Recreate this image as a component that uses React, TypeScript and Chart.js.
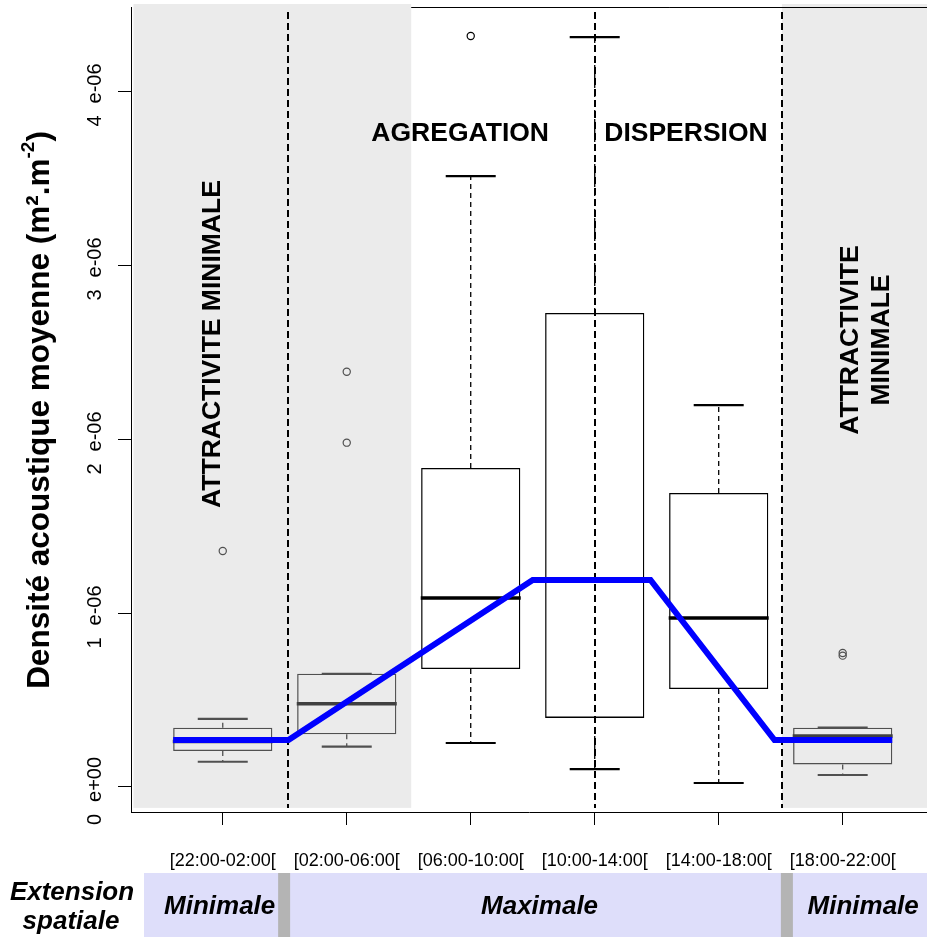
import React, { useEffect, useRef } from 'react';
import { Chart, registerables } from 'chart.js';

Chart.register(...registerables);

const FONT = '"Liberation Sans", Arial, Helvetica, sans-serif';

// ---- data ----
const CATEGORIES = ['[22:00-02:00[', '[02:00-06:00[', '[06:00-10:00[', '[10:00-14:00[', '[14:00-18:00[', '[18:00-22:00['];
const POSITIONS = [1, 2, 3, 4, 5, 6];
const WHISKER_LOW = [0.145e-6, 0.232e-6, 0.253e-6, 0.103e-6, 0.023e-6, 0.069e-6];
const Q1 = [0.207e-6, 0.303e-6, 0.678e-6, 0.397e-6, 0.563e-6, 0.130e-6];
const MEDIAN = [0.262e-6, 0.479e-6, 1.086e-6, 1.19e-6, 0.971e-6, 0.293e-6];
const Q3 = [0.341e-6, 0.651e-6, 1.833e-6, 2.724e-6, 1.690e-6, 0.341e-6];
const WHISKER_HIGH = [0.391e-6, 0.651e-6, 3.511e-6, 4.310e-6, 2.195e-6, 0.341e-6];
const OUTLIER_X = [1, 2, 2, 3, 6, 6];
const OUTLIER_Y = [1.356e-6, 2.387e-6, 1.979e-6, 4.316e-6, 0.770e-6, 0.755e-6];
const TREND_X = [0.6, 1.53, 3.5, 4.45, 5.45, 6.4];
const TREND_Y = [0.27e-6, 0.27e-6, 1.19e-6, 1.19e-6, 0.27e-6, 0.27e-6];
const Y_TICKS = [0, 1e-6, 2e-6, 3e-6, 4e-6];
const Y_TICK_DIGITS = ['0', '1', '2', '3', '4'];
const Y_TICK_EXPONENTS = ['e+00', 'e-06', 'e-06', 'e-06', 'e-06'];
const Y_TITLE = 'Densité acoustique moyenne (m².m';
const Y_TITLE_SUP = '-2';
const Y_TITLE_END = ')';
const ZONE_LABELS = ['Minimale', 'Maximale', 'Minimale'];
const ZONE_ROW_TITLE = ['Extension', 'spatiale'];

// axis ranges / layout helpers (not data)
const X_MIN = 0.26;
const X_MAX = 6.68;
const Y_MIN = -0.1437e-6;
const Y_MAX = 4.483e-6;
const GREY_ZONES = [[0.28, 2.52], [5.51, 6.7]];
const ZONE_TOP = 4.5e-6;
const ZONE_BOTTOM = -0.12e-6;
const SEPARATORS = [1.53, 4.0, 5.51];
const BOX_COLORS = ['#505050', '#505050', '#000000', '#000000', '#000000', '#505050'];

function colorFor(x: number) {
  return BOX_COLORS[Math.round(x) - 1] || '#000';
}

function rotText(ctx: CanvasRenderingContext2D, text: string, x: number, y: number, font: string) {
  ctx.save();
  ctx.translate(x, y);
  ctx.rotate(-Math.PI / 2);
  ctx.font = font;
  ctx.textAlign = 'center';
  ctx.textBaseline = 'middle';
  ctx.fillText(text, 0, 0);
  ctx.restore();
}

function zeroPad(s: any) {
  s.paddingLeft = 0;
  s.paddingRight = 0;
  s.paddingTop = 0;
  s.paddingBottom = 0;
}

const decorPlugin = {
  id: 'decor',
  beforeDatasetsDraw(chart: any) {
    const { ctx, chartArea, scales } = chart;
    const xs = scales.x, ys = scales.y;
    ctx.save();
    ctx.fillStyle = '#ebebeb';
    const yt = ys.getPixelForValue(ZONE_TOP);
    const yb = ys.getPixelForValue(ZONE_BOTTOM);
    for (const [a, b] of GREY_ZONES) {
      const x0 = xs.getPixelForValue(a);
      const x1 = xs.getPixelForValue(b);
      ctx.fillRect(x0, yt, x1 - x0, yb - yt);
    }
    // top frame line
    ctx.strokeStyle = '#000';
    ctx.lineWidth = 1;
    ctx.beginPath();
    ctx.moveTo(xs.getPixelForValue(GREY_ZONES[0][1]), chartArea.top + 0.5);
    ctx.lineTo(chartArea.right, chartArea.top + 0.5);
    ctx.stroke();
    // dashed separators
    ctx.setLineDash([7, 4]);
    ctx.lineWidth = 2;
    for (const v of SEPARATORS) {
      const px = Math.round(xs.getPixelForValue(v));
      ctx.beginPath();
      ctx.moveTo(px, chartArea.top + 5);
      ctx.lineTo(px, yb);
      ctx.stroke();
    }
    ctx.restore();
  },
  afterDraw(chart: any) {
    const { ctx, scales } = chart;
    const xs = scales.x, ys = scales.y;
    ctx.save();
    ctx.fillStyle = '#000';
    // y tick labels (rotated, digit + exponent)
    ys.ticks.forEach((t: any, i: number) => {
      const py = ys.getPixelForValue(t.value);
      ctx.save();
      ctx.translate(95, py + 4);
      ctx.rotate(-Math.PI / 2);
      ctx.font = `20px ${FONT}`;
      ctx.textBaseline = 'middle';
      const d = Y_TICK_DIGITS[i], e = Y_TICK_EXPONENTS[i];
      const gap = 12;
      const wd = ctx.measureText(d).width, we = ctx.measureText(e).width;
      const start = -(wd + gap + we) / 2;
      ctx.textAlign = 'left';
      ctx.fillText(d, start, 0);
      ctx.fillText(e, start + wd + gap, 0);
      ctx.restore();
    });
    // y title with superscript
    {
      ctx.save();
      ctx.translate(40, 410);
      ctx.rotate(-Math.PI / 2);
      const fMain = `bold 31.5px ${FONT}`;
      const fSup = `bold 19px ${FONT}`;
      ctx.font = fMain;
      const w1 = ctx.measureText(Y_TITLE).width;
      const w3 = ctx.measureText(Y_TITLE_END).width;
      ctx.font = fSup;
      const w2 = ctx.measureText(Y_TITLE_SUP).width;
      const total = w1 + w2 + w3;
      let cx = -total / 2;
      ctx.textAlign = 'left';
      ctx.textBaseline = 'middle';
      ctx.font = fMain;
      ctx.fillText(Y_TITLE, cx, 0);
      cx += w1;
      ctx.font = fSup;
      ctx.fillText(Y_TITLE_SUP, cx, -11);
      cx += w2;
      ctx.font = fMain;
      ctx.fillText(Y_TITLE_END, cx, 0);
      ctx.restore();
    }
    // annotations
    const fAnn = `bold 26.5px ${FONT}`;
    rotText(ctx, 'ATTRACTIVITE MINIMALE', xs.getPixelForValue(0.92), ys.getPixelForValue(2.546e-6), fAnn);
    rotText(ctx, 'ATTRACTIVITE', xs.getPixelForValue(6.065), ys.getPixelForValue(2.569e-6), fAnn);
    rotText(ctx, 'MINIMALE', xs.getPixelForValue(6.315), ys.getPixelForValue(2.569e-6), fAnn);
    ctx.font = fAnn;
    ctx.textAlign = 'center';
    ctx.textBaseline = 'middle';
    ctx.fillText('AGREGATION', xs.getPixelForValue(2.915), ys.getPixelForValue(3.753e-6));
    ctx.fillText('DISPERSION', xs.getPixelForValue(4.736), ys.getPixelForValue(3.753e-6));

    // bottom band: spatial extension
    const bandTop = 873, bandBottom = 937;
    const bandLeft = xs.getPixelForValue(0.365);
    ctx.fillStyle = '#dedefa';
    ctx.fillRect(bandLeft, bandTop, chart.width - bandLeft, bandBottom - bandTop);
    ctx.fillStyle = '#b4b4b4';
    for (const v of [1.495, 5.55]) {
      const px = xs.getPixelForValue(v);
      ctx.fillRect(px - 6, bandTop, 12, bandBottom - bandTop);
    }
    ctx.fillStyle = '#000';
    ctx.font = `italic bold 26px ${FONT}`;
    ctx.textAlign = 'center';
    ctx.textBaseline = 'middle';
    const zoneCenters = [0.975, 3.555, 6.165];
    ZONE_LABELS.forEach((t, i) => ctx.fillText(t, xs.getPixelForValue(zoneCenters[i]), 907));
    ctx.fillText(ZONE_ROW_TITLE[0], 72, 893);
    ctx.fillText(ZONE_ROW_TITLE[1], 71, 922);
    ctx.restore();
  },
};

export default function App() {
  const ref = useRef<HTMLCanvasElement>(null);
  useEffect(() => {
    const canvas = ref.current!;
    const whiskerData: any[] = [];
    POSITIONS.forEach((p, i) => {
      whiskerData.push({ x: p, y: Q3[i] }, { x: p, y: WHISKER_HIGH[i] }, { x: p, y: null });
      whiskerData.push({ x: p, y: Q1[i] }, { x: p, y: WHISKER_LOW[i] }, { x: p, y: null });
    });
    const caps: any[] = [];
    POSITIONS.forEach((p, i) => {
      caps.push({ x: p, y: WHISKER_HIGH[i] }, { x: p, y: WHISKER_LOW[i] });
    });
    const chart = new Chart(canvas, {
      type: 'bar',
      data: {
        datasets: [
          {
            type: 'bar',
            label: 'boxes',
            data: POSITIONS.map((p, i) => ({ x: p, y: [Q1[i], Q3[i]] })) as any,
            backgroundColor: 'rgba(0,0,0,0)',
            borderColor: BOX_COLORS,
            borderWidth: 1.3,
            borderSkipped: false,
            barPercentage: 1,
            categoryPercentage: 0.8,
            order: 5,
          } as any,
          {
            type: 'line',
            label: 'whiskers',
            data: whiskerData,
            borderColor: '#000',
            segment: { borderColor: (c: any) => colorFor(c.p0.parsed.x) },
            borderWidth: 1.3,
            borderDash: [5, 4],
            pointRadius: 0,
            spanGaps: false,
            order: 4,
          } as any,
          {
            type: 'scatter',
            label: 'caps',
            data: caps,
            pointStyle: 'line',
            pointRadius: 25,
            borderColor: caps.map((c) => colorFor(c.x)),
            borderWidth: 2.2,
            order: 3,
          } as any,
          {
            type: 'scatter',
            label: 'medians',
            data: POSITIONS.map((p, i) => ({ x: p, y: MEDIAN[i] })),
            pointStyle: 'line',
            pointRadius: 50,
            borderColor: POSITIONS.map((p) => (colorFor(p) === '#000000' ? '#000' : '#404040')),
            borderWidth: 3.5,
            order: 2,
          } as any,
          {
            type: 'scatter',
            label: 'outliers',
            data: OUTLIER_X.map((x, i) => ({ x, y: OUTLIER_Y[i] })),
            pointStyle: 'circle',
            pointRadius: 3.6,
            borderColor: OUTLIER_X.map((x) => colorFor(x)),
            backgroundColor: 'rgba(0,0,0,0)',
            borderWidth: 1.2,
            order: 2,
          } as any,
          {
            type: 'line',
            label: 'trend',
            data: TREND_X.map((x, i) => ({ x, y: TREND_Y[i] })),
            borderColor: '#0000ff',
            borderWidth: 6,
            pointRadius: 0,
            tension: 0,
            order: 0,
          } as any,
        ],
      },
      options: {
        responsive: false,
        animation: false,
        devicePixelRatio: 1,
        events: [],
        layout: { autoPadding: false, padding: { left: 0, right: 0, top: 7, bottom: 0 } },
        plugins: { legend: { display: false }, tooltip: { enabled: false } },
        scales: {
          x: {
            type: 'linear',
            min: X_MIN,
            max: X_MAX,
            offset: false,
            position: 'bottom',
            grid: { offset: false, drawOnChartArea: false, drawTicks: true, tickLength: 13, color: '#000', lineWidth: 1 },
            border: { display: true, color: '#000', width: 1 },
            afterBuildTicks: (s: any) => { s.ticks = POSITIONS.map((v) => ({ value: v })); },
            afterFit: (s: any) => { s.height = 125; zeroPad(s); },
            ticks: {
              callback: (_v: any, i: number) => CATEGORIES[i],
              font: { size: 18, family: FONT },
              color: '#000',
              padding: 25,
              maxRotation: 0,
              minRotation: 0,
              autoSkip: false,
            },
          },
          y: {
            type: 'linear',
            min: Y_MIN,
            max: Y_MAX,
            grid: { drawOnChartArea: false, drawTicks: true, tickLength: 13, color: '#000', lineWidth: 1 },
            border: { display: true, color: '#000', width: 1 },
            afterBuildTicks: (s: any) => { s.ticks = Y_TICKS.map((v) => ({ value: v })); },
            afterFit: (s: any) => { s.width = 131; zeroPad(s); },
            ticks: { display: false },
          },
        },
      } as any,
      plugins: [decorPlugin],
    });
    return () => chart.destroy();
  }, []);
  return (
    <div style={{ position: 'absolute', left: 0, top: 0, width: 927, height: 937, background: '#fff' }}>
      <canvas ref={ref} width={927} height={937} />
    </div>
  );
}
